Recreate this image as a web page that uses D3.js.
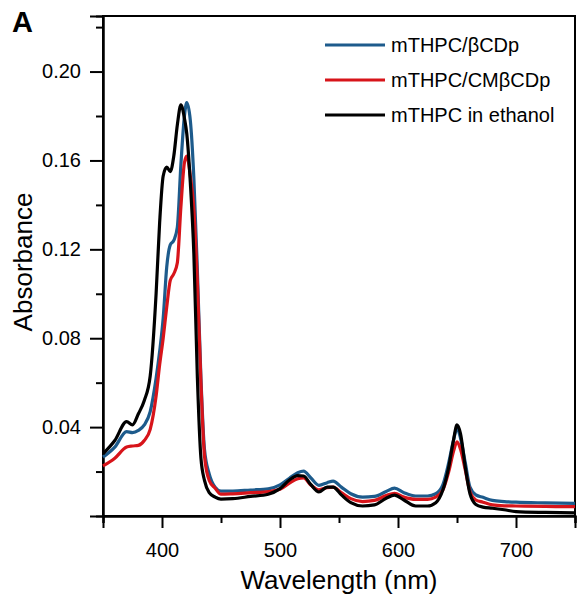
<!DOCTYPE html>
<html lang="en">
<head>
    <meta charset="UTF-8" />
    <title>Absorbance spectra</title>
    <script src="https://d3js.org/d3.v7.min.js"></script>
    <style>
        body {
            margin: 0;
            padding: 0;
            background-color: #ffffff;
            font-family: "Liberation Sans", Arial, sans-serif;
        }

        .axis path,
        .axis line {
            stroke: #000;
            stroke-width: 2px;
        }

        .axis text {
            font-family: "Liberation Sans", Arial, sans-serif;
            font-size: 20px;
            fill: #000;
        }

        .spectrum {
            fill: none;
            stroke-width: 3.2px;
            stroke-linejoin: round;
        }
    </style>
</head>
<body>
    <svg id="chart" width="579" height="597"></svg>

    <script>
        // wavelength grid (nm)
        const wavelengths = [350, 360, 370, 375, 380, 385, 390, 395, 398, 401, 404, 407, 410, 413, 416, 419, 421, 424, 427, 430,
            433, 436, 440, 445, 450, 460, 475, 490, 500, 508, 515, 520, 526, 533, 540, 545, 552, 560, 570, 580,
            590, 597, 605, 615, 625, 632, 638, 643, 647, 650, 653, 657, 661, 666, 672, 680, 690, 700, 725, 750];

        // mTHPC/βCDp
        const betaCDp = [0.0265, 0.031, 0.038, 0.0375, 0.0385, 0.041, 0.047, 0.062, 0.074, 0.089, 0.112, 0.122, 0.124, 0.130, 0.158, 0.180, 0.186, 0.178, 0.152, 0.110,
            0.062, 0.030, 0.019, 0.013, 0.0112, 0.0112, 0.0117, 0.0122, 0.0140, 0.0170, 0.0195, 0.0202, 0.0172, 0.0138, 0.0150, 0.0157, 0.0130, 0.0100, 0.0085, 0.0088,
            0.0110, 0.0125, 0.0105, 0.0090, 0.0090, 0.0100, 0.0140, 0.024, 0.034, 0.0395, 0.035, 0.024, 0.013, 0.0095, 0.0084, 0.0070, 0.0065, 0.0062, 0.0059, 0.0057];

        // mTHPC/CMβCDp
        const cmBetaCDp = [0.0225, 0.026, 0.031, 0.0315, 0.0318, 0.034, 0.039, 0.054, 0.068, 0.080, 0.094, 0.106, 0.109, 0.114, 0.139, 0.159, 0.162, 0.153, 0.138, 0.105,
            0.060, 0.027, 0.016, 0.0125, 0.0098, 0.0100, 0.0105, 0.0110, 0.0120, 0.0148, 0.0168, 0.0172, 0.0140, 0.0118, 0.0128, 0.0130, 0.0105, 0.0078, 0.0065, 0.0070,
            0.0092, 0.0102, 0.0085, 0.0075, 0.0075, 0.0085, 0.0117, 0.020, 0.029, 0.0334, 0.030, 0.0207, 0.011, 0.0072, 0.0062, 0.0050, 0.0046, 0.0045, 0.0043, 0.0042];

        // mTHPC in ethanol
        const ethanol = [0.028, 0.034, 0.0425, 0.041, 0.046, 0.052, 0.063, 0.100, 0.132, 0.153, 0.157, 0.155, 0.162, 0.176, 0.185, 0.179, 0.172, 0.150, 0.118, 0.062,
            0.026, 0.016, 0.0105, 0.0085, 0.0076, 0.0078, 0.0088, 0.0098, 0.0123, 0.0162, 0.0182, 0.0180, 0.0142, 0.0108, 0.0130, 0.0130, 0.0095, 0.0060, 0.0045, 0.0050,
            0.0080, 0.0094, 0.0072, 0.0045, 0.0045, 0.0060, 0.0117, 0.022, 0.034, 0.041, 0.037, 0.022, 0.010, 0.0052, 0.0040, 0.0035, 0.0028, 0.0020, 0.0016, 0.0014];

        const xMajorTicks = [400, 500, 600, 700];
        const xMinorTicks = [350, 450, 550, 650, 750];
        const yMajorTicks = [0.04, 0.08, 0.12, 0.16, 0.20];
        const yMinorTicks = [0.02, 0.06, 0.10, 0.14, 0.18, 0.22];

        const seriesNames = ["mTHPC/\u03b2CDp", "mTHPC/CM\u03b2CDp", "mTHPC in ethanol"];
        const seriesColors = ["#1d5b8c", "#d7141a", "#000000"];
        const seriesValues = [betaCDp, cmBetaCDp, ethanol];

        const width = 579, height = 597;
        const margin = { top: 16, right: 4, bottom: 81, left: 103 };

        const svg = d3.select("#chart");

        const x = d3.scaleLinear()
            .domain([350, 750])
            .range([margin.left, width - margin.right]);

        const y = d3.scaleLinear()
            .domain([0, 0.225])
            .range([height - margin.bottom, margin.top]);

        // minor ticks
        svg.append("g")
            .attr("class", "axis")
            .attr("transform", `translate(0,${height - margin.bottom})`)
            .call(d3.axisBottom(x).tickValues(xMinorTicks).tickSize(7).tickFormat(""));

        svg.append("g")
            .attr("class", "axis")
            .attr("transform", `translate(${margin.left},0)`)
            .call(d3.axisLeft(y).tickValues(yMinorTicks).tickSize(7).tickFormat(""));

        // major ticks
        svg.append("g")
            .attr("class", "axis")
            .attr("transform", `translate(0,${height - margin.bottom})`)
            .call(d3.axisBottom(x).tickValues(xMajorTicks).tickSize(12).tickPadding(15).tickFormat(d3.format("d")));

        svg.append("g")
            .attr("class", "axis")
            .attr("transform", `translate(${margin.left},0)`)
            .call(d3.axisLeft(y).tickValues(yMajorTicks).tickSize(13).tickPadding(9).tickFormat(d3.format(".2f")));

        // frame
        svg.append("rect")
            .attr("x", margin.left)
            .attr("y", margin.top)
            .attr("width", width - margin.right - margin.left)
            .attr("height", height - margin.bottom - margin.top)
            .attr("fill", "none")
            .attr("stroke", "#000")
            .attr("stroke-width", 2);

        // spectra
        const line = d3.line()
            .x((d, i) => x(wavelengths[i]))
            .y(d => y(d))
            .curve(d3.curveMonotoneX);

        svg.append("g")
            .selectAll("path")
            .data(seriesValues)
            .enter().append("path")
            .attr("class", "spectrum")
            .attr("stroke", (d, i) => seriesColors[i])
            .attr("d", line);

        // legend
        const legend = svg.append("g")
            .selectAll("g")
            .data(seriesNames)
            .enter().append("g")
            .attr("transform", (d, i) => `translate(325,${45 + i * 35})`);

        legend.append("line")
            .attr("x1", 0)
            .attr("x2", 60)
            .attr("stroke", (d, i) => seriesColors[i])
            .attr("stroke-width", 3);

        legend.append("text")
            .attr("x", 66)
            .attr("dy", "0.35em")
            .attr("font-size", "20px")
            .text(d => d);

        // axis titles
        svg.append("text")
            .attr("x", (margin.left + width - margin.right) / 2)
            .attr("y", 589)
            .attr("text-anchor", "middle")
            .attr("font-size", "26px")
            .text("Wavelength (nm)");

        svg.append("text")
            .attr("transform", `translate(32,262) rotate(-90)`)
            .attr("text-anchor", "middle")
            .attr("font-size", "26px")
            .text("Absorbance");

        // panel label
        svg.append("text")
            .attr("x", 12)
            .attr("y", 32)
            .attr("font-size", "29px")
            .attr("font-weight", "bold")
            .text("A");
    </script>
</body>
</html>
